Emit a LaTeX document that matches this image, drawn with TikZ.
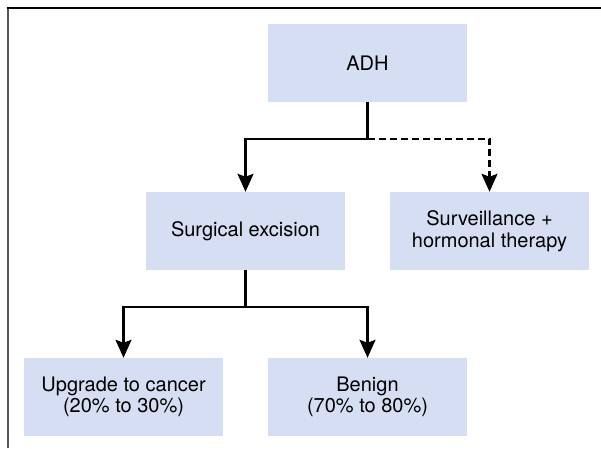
\documentclass[tikz,border=0pt]{standalone}
\usepackage{fontspec}
\setmainfont{TeX Gyre Heros}
\usepackage{xcolor}
\usepackage{tikz}
\usetikzlibrary{arrows.meta, positioning, calc}
\definecolor{ADHBoxBlue}{RGB}{213, 222, 242}
\definecolor{ADHFrameGray}{RGB}{85, 85, 85}

\tikzset{
  pathbox/.style={fill=ADHBoxBlue, minimum width=199pt, minimum height=78pt,
                  inner sep=0pt, align=center, font=\fontsize{20}{21.5}\selectfont},
  flowline/.style={line width=2.2pt, line join=miter},
  flowarrow/.style={flowline, -{Stealth[length=18pt, width=16pt, inset=3pt]}},
  flowdash/.style={flowarrow, dash pattern=on 7pt off 4pt}
}

\begin{document}
\begin{tikzpicture}[x=1pt, y=1pt]
    \useasboundingbox (0,0) rectangle (601,448);
    % frame (cut off at right and bottom)
    \draw[line width=2pt, ADHFrameGray] (7.5,0) -- (7.5,439.5);
    \draw[line width=2pt, black] (6.5,439.5) -- (601,439.5);

    % boxes
    \node[pathbox] (adh)      at (367.5,385) {ADH};
    \node[pathbox] (excision) at (245.5,217) {Surgical excision};
    \node[pathbox] (surveil)  at (489.5,217) {Surveillance +\\hormonal therapy};
    \node[pathbox] (upgrade)  at (123.5,51)  {Upgrade to cancer\\(20\% to 30\%)};
    \node[pathbox] (benign)   at (367.5,51)  {Benign\\(70\% to 80\%)};

    % connectors
    \coordinate (adhsplit) at ($(adh.south)+(0,-37)$);
    \coordinate (exsplit)  at ($(excision.south)+(0,-37)$);
    \draw[flowline]  (adh.south) -- (adhsplit);
    \draw[flowarrow] (adhsplit) -| (excision.north);
    \draw[flowdash]  (adhsplit) -| (surveil.north);
    \draw[flowline]  (excision.south) -- (exsplit);
    \draw[flowarrow] (exsplit) -| (upgrade.north);
    \draw[flowarrow] (exsplit) -| (benign.north);
  \end{tikzpicture}
\end{document}
